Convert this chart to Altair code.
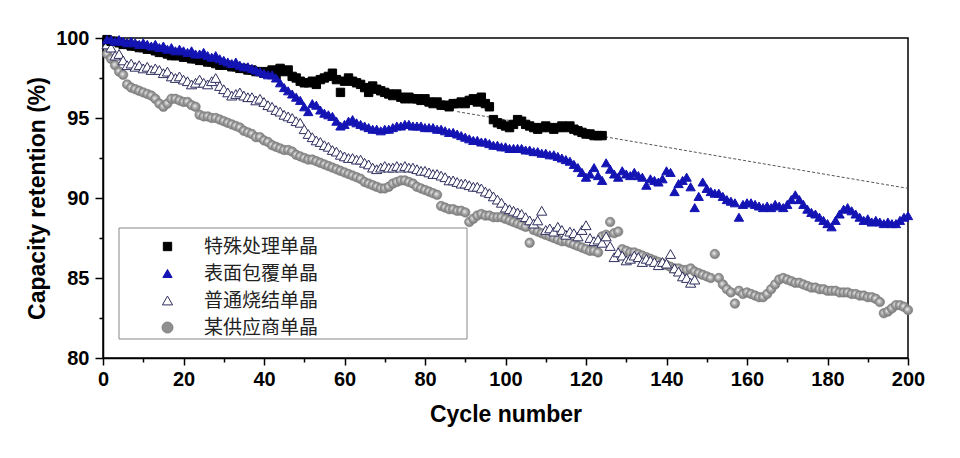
import altair as alt
import pandas as pd

series_names = ["特殊处理单晶", "表面包覆单晶", "普通烧结单晶", "某供应商单晶"]

black_vals = [
    99.9, 99.8, 99.8, 99.7, 99.6, 99.6, 99.5, 99.5, 99.4, 99.4,
    99.3, 99.3, 99.2, 99.1, 99.1, 99.0, 98.9, 98.9, 98.9, 98.8,
    98.8, 98.7, 98.7, 98.6, 98.6, 98.5, 98.5, 98.4, 98.3, 98.3,
    98.3, 98.2, 98.2, 98.1, 98.1, 98.0, 98.0, 97.9, 97.9, 97.8,
    97.9, 98.0, 97.7, 98.1, 97.9, 98.0, 97.6, 97.5, 97.3, 97.2,
    97.2, 97.3, 97.1, 97.4, 97.5, 97.6, 97.8, 97.4, 96.6, 97.3,
    97.5, 97.3, 97.2, 97.1, 96.9, 96.6, 97.0, 96.8, 96.7, 96.6,
    96.5, 96.4, 96.5, 96.3, 96.2, 96.3, 96.2, 96.2, 96.1, 96.2,
    96.0, 95.9, 96.0, 95.8, 95.8, 95.7, 95.9, 95.9, 96.0, 95.9,
    96.1, 96.2, 96.0, 96.3, 95.9, 95.7, 94.9, 94.7, 94.6, 94.5,
    94.4, 94.6, 94.9, 94.8, 94.6, 94.5, 94.4, 94.3, 94.4, 94.5,
    94.4, 94.3, 94.4, 94.5, 94.4, 94.5, 94.3, 94.2, 94.1, 94.0,
    94.0, 93.9, 93.9, 93.9,
]

blue_vals = [
    99.9, 99.9, 99.8, 99.9, 99.8, 99.7, 99.8, 99.7, 99.6, 99.7,
    99.6, 99.5, 99.6, 99.4, 99.5, 99.3, 99.4, 99.2, 99.3, 99.2,
    99.1, 99.2, 99.0, 99.0, 99.1, 98.9, 98.8, 98.9, 98.7, 98.6,
    98.5, 98.4, 98.5, 98.3, 98.2, 98.2, 98.1, 98.0, 97.9, 97.8,
    97.7, 97.7, 97.5, 97.2, 96.9, 96.7, 96.5, 96.3, 96.1, 95.7,
    95.4, 95.9, 95.8, 95.5, 95.3, 95.2, 95.1, 94.8, 94.5, 94.6,
    94.8, 94.9, 94.7, 94.6, 94.5, 94.4, 94.3, 94.3, 94.2, 94.3,
    94.3, 94.4, 94.5, 94.5, 94.6, 94.6, 94.5, 94.5, 94.5, 94.4,
    94.4, 94.4, 94.3, 94.3, 94.2, 94.1, 94.1, 94.0, 93.9, 93.8,
    93.7, 93.6, 93.6, 93.5, 93.5, 93.4, 93.3, 93.3, 93.2, 93.2,
    93.1, 93.1, 93.1, 93.1, 93.0, 93.0, 92.9, 92.9, 92.8, 92.8,
    92.7, 92.7, 92.6, 92.5, 92.4, 92.3, 92.1, 91.9, 91.6, 91.3,
    91.5, 91.9, 91.4, 91.1, 92.2, 91.8, 91.5, 91.3, 91.7, 91.5,
    91.4, 91.6, 91.4, 91.3, 90.8, 91.2, 91.1, 91.0, 91.2, 91.7,
    91.6, 90.4, 90.9, 91.1, 91.3, 90.7, 89.4, 90.1, 91.0, 90.6,
    90.4, 90.3, 90.3, 90.1, 89.9, 89.8, 89.7, 88.8, 89.6, 89.7,
    89.7, 89.6, 89.5, 89.4, 89.5, 89.4, 89.6, 89.5, 89.4, 89.6,
    89.9, 90.2, 89.9, 89.6, 89.3, 89.1, 89.0, 88.8, 88.6, 88.4,
    88.2, 88.6, 89.0, 89.3, 89.4, 89.2, 89.0, 88.8, 88.6, 88.7,
    88.5, 88.6, 88.5, 88.4, 88.5, 88.4, 88.4, 88.6, 88.8, 88.9,
]

white_vals = [
    99.6, 99.4, 98.9, 99.0, 98.6, 98.3, 98.4, 98.2, 98.3, 98.1,
    98.2, 98.0, 98.1, 98.0, 97.8, 97.9, 97.6, 97.5, 97.6, 97.4,
    97.3, 97.1, 97.2, 97.4, 97.2, 97.1, 97.3, 97.5, 97.0, 96.8,
    96.6, 96.4, 96.5, 96.6, 96.4, 96.3, 96.3, 96.1, 96.2, 96.0,
    95.8, 95.7, 95.5, 95.4, 95.2, 95.1, 95.0, 94.8, 94.7, 94.3,
    94.0, 93.8, 93.6, 93.5, 93.3, 93.2, 93.0, 92.9, 92.7, 92.6,
    92.5, 92.5, 92.4, 92.4, 92.2, 92.1, 91.9, 91.8, 91.9, 92.0,
    91.9, 91.9, 92.0, 91.9, 92.0, 91.9, 91.9, 91.8, 91.7, 91.7,
    91.6, 91.5, 91.5, 91.4, 91.3, 91.1, 91.1, 91.0, 90.9, 90.9,
    90.8, 90.7, 90.7, 90.6, 90.4, 90.3, 90.1, 89.9, 89.7, 89.4,
    89.3, 89.2, 89.1, 89.0, 88.8, 88.6, 88.4, 88.6, 89.2, 88.0,
    88.1, 87.9, 88.2, 88.0, 87.7, 87.9, 87.8, 87.6, 88.0, 88.3,
    87.5, 87.3, 87.4, 87.2, 87.6, 87.0, 86.3, 86.6, 86.4, 86.1,
    86.2, 86.4, 86.3, 86.0, 86.2, 86.1, 86.0, 85.8, 86.0, 85.9,
    86.5, 85.6, 85.4, 85.1, 85.0, 84.7, 84.9,
]

gray_vals = [
    99.0, 98.7, 98.3, 97.9, 97.7, 97.1, 96.9, 96.8, 96.7, 96.6,
    96.5, 96.4, 96.2, 95.9, 95.7, 95.9, 96.2, 96.2, 96.1, 96.0,
    96.0, 95.8, 95.7, 95.2, 95.1, 95.1, 95.0, 95.0, 94.9, 94.8,
    94.7, 94.6, 94.5, 94.4, 94.2, 94.1, 94.0, 93.8, 93.8, 93.6,
    93.5, 93.3, 93.2, 93.1, 93.0, 93.0, 92.9, 92.7, 92.6, 92.5,
    92.4, 92.4, 92.3, 92.2, 92.1, 92.0, 91.9, 91.8, 91.7, 91.6,
    91.5, 91.4, 91.3, 91.2, 91.0, 90.9, 90.8, 90.7, 90.6, 90.6,
    90.7, 90.9, 91.0, 91.1, 91.1, 91.0, 90.9, 90.7, 90.6, 90.5,
    90.4, 90.3, 90.2, 89.5, 89.4, 89.3, 89.3, 89.2, 89.2, 89.1,
    88.5, 88.7, 88.9, 89.0, 88.9, 88.9, 88.8, 88.8, 88.8, 88.7,
    88.6, 88.5, 88.4, 88.3, 88.2, 87.2, 88.0, 87.9, 87.8, 87.7,
    87.6, 87.5, 87.4, 87.3, 87.3, 87.2, 87.1, 87.0, 86.9, 86.8,
    86.7, 86.7, 86.6, 87.6, 87.7, 88.5, 87.8, 87.9, 86.8, 86.7,
    86.6, 86.6, 86.5, 86.4, 86.3, 86.2, 86.1, 86.0, 85.9, 85.8,
    85.7, 85.6, 85.6, 85.5, 85.5, 85.6, 85.4, 85.3, 85.2, 85.1,
    85.0, 86.5, 85.0, 84.6, 84.3, 84.1, 83.4, 84.2, 84.0, 84.1,
    84.0, 83.9, 83.8, 83.8, 84.0, 84.3, 84.6, 84.9, 85.0, 84.9,
    84.8, 84.7, 84.7, 84.6, 84.5, 84.4, 84.4, 84.3, 84.3, 84.2,
    84.2, 84.2, 84.1, 84.1, 84.1, 84.0, 84.0, 83.9, 83.9, 83.8,
    83.8, 83.7, 83.5, 82.8, 82.9, 83.1, 83.3, 83.3, 83.2, 83.0,
]

trend_cycles = [88, 200]
trend_vals = [95.4, 90.6]

x_tick_values = [0, 10, 20, 30, 40, 50, 60, 70, 80, 90, 100,
                 110, 120, 130, 140, 150, 160, 170, 180, 190, 200]
y_tick_values = [80, 82.5, 85, 87.5, 90, 92.5, 95, 97.5, 100]


def frame(name, vals):
    return pd.DataFrame({"cycle": list(range(1, len(vals) + 1)),
                         "retention": vals, "series": name})


main_df = pd.concat([
    frame(series_names[2], white_vals),
    frame(series_names[0], black_vals),
    frame(series_names[1], blue_vals),
], ignore_index=True)
gray_df = frame(series_names[3], gray_vals)
trend_df = pd.DataFrame({"cycle": trend_cycles, "retention": trend_vals})

AX_FONT = "Liberation Sans"

x_enc = alt.X(
    "cycle:Q",
    scale=alt.Scale(domain=[0, 200], nice=False, zero=False),
    axis=alt.Axis(
        values=x_tick_values,
        labelExpr="datum.value % 20 === 0 ? datum.label : ''",
        tickSize={"condition": {"test": "datum.value % 20 === 0", "value": 7}, "value": 4},
        title="Cycle number",
        titlePadding=14,
        labelPadding=4,
        labelFlush=False,
    ),
)
y_enc = alt.Y(
    "retention:Q",
    scale=alt.Scale(domain=[80, 100], nice=False, zero=False),
    axis=alt.Axis(
        values=y_tick_values,
        labelExpr="datum.value % 5 === 0 ? datum.label : ''",
        tickSize={"condition": {"test": "datum.value % 5 === 0", "value": 8}, "value": 4},
        title="Capacity retention (%)",
        titlePadding=6,
        labelPadding=6,
        labelFlush=False,
    ),
)

leg = alt.Legend(title=None)

shape_scale = alt.Scale(domain=series_names,
                        range=["square", "triangle-up", "triangle-up", "circle"])
fill_scale = alt.Scale(domain=series_names,
                       range=["#000000", "#1414b4", "#ffffff", "#8f8f8f"])
stroke_scale = alt.Scale(domain=series_names,
                         range=["#000000", "#1414b4", "#2e2e5e", "#7a7a7a"])
size_scale = alt.Scale(domain=series_names, range=[70, 120, 120, 90])

legend_box = alt.Chart(alt.Data(values=[{}])).mark_rect(
    fill="white", stroke="#888888", strokeWidth=1
).encode(
    x=alt.value(16), x2=alt.value(364), y=alt.value(190), y2=alt.value(301)
)

trend = alt.Chart(trend_df).mark_line(
    strokeDash=[3, 2], color="#555555", strokeWidth=1
).encode(x=x_enc, y=y_enc)

sphere = alt.RadialGradient(
    gradient="radial",
    stops=[alt.GradientStop(offset=0, color="#f2f2f2"),
           alt.GradientStop(offset=0.45, color="#a3a3a3"),
           alt.GradientStop(offset=1, color="#6c6c6c")],
    x1=0.4, y1=0.4, r1=0, x2=0.5, y2=0.5, r2=0.6,
)

gray_layer = alt.Chart(gray_df).mark_point(
    shape="circle", size=90, fill=sphere, stroke="#7a7a7a",
    strokeWidth=0.6, opacity=1, filled=True
).encode(x=x_enc, y=y_enc)

main_layer = alt.Chart(main_df).mark_point(opacity=1, strokeWidth=1).encode(
    x=x_enc,
    y=y_enc,
    shape=alt.Shape("series:N", scale=shape_scale, legend=leg),
    fill=alt.Fill("series:N", scale=fill_scale, legend=leg),
    stroke=alt.Stroke("series:N", scale=stroke_scale, legend=leg),
    size=alt.Size("series:N", scale=size_scale, legend=leg),
)

chart = alt.layer(legend_box, trend, gray_layer, main_layer).properties(
    width=805, height=320,
    padding={"left": 95, "top": 30, "right": 36, "bottom": 92},
    autosize="none",
    background="white",
).configure_view(
    stroke="black", strokeWidth=1.5
).configure_axis(
    domainColor="black", domainWidth=1.5,
    tickColor="black", tickWidth=1.5,
    grid=False,
    labelFont=AX_FONT, labelFontSize=20, labelFontWeight="bold", labelColor="black",
    titleFont=AX_FONT, titleFontSize=23, titleFontWeight="bold", titleColor="black",
).configure_legend(
    orient="none", legendX=55, legendY=199,
    labelFont="Noto Sans CJK SC", labelFontSize=19, labelColor="#222222",
    labelOffset=27, rowPadding=7, padding=0, symbolStrokeWidth=1,
    symbolOffset=0,
)

chart.save("out.html", embed_options={"renderer": "svg", "actions": False})
